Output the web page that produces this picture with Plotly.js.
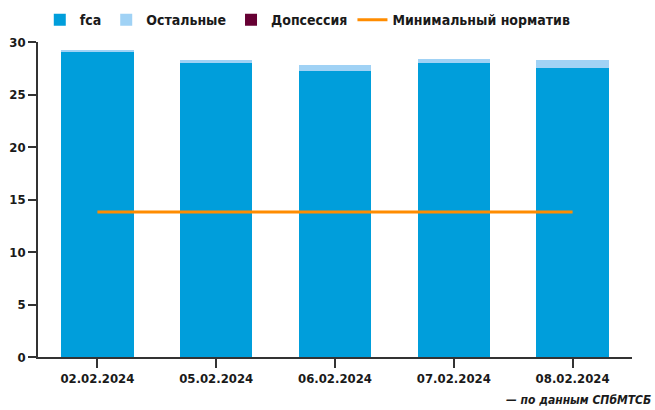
<!DOCTYPE html>
<html><head><meta charset="utf-8">
<script src="https://cdn.plot.ly/plotly-3.0.1.min.js"></script>
<style>body{margin:0;padding:0;background:#fff}#chart{width:655px;height:410px}</style>
</head><body><div id="chart"></div>
<script>
const dates = ["02.02.2024","05.02.2024","06.02.2024","07.02.2024","08.02.2024"];
const fca = [29.05, 28.0, 27.24, 28.0, 27.52];
const others = [0.2, 0.29, 0.57, 0.38, 0.76];
const dopsession = [0, 0, 0, 0, 0];
const minNorm = [13.8, 13.8, 13.8, 13.8, 13.8];
const yTicks = [0, 5, 10, 15, 20, 25, 30];

const FAM = "DejaVu Sans Condensed, DejaVu Sans, sans-serif";
const fnt = {family: FAM, size: 13, color: "#1a1a1a", weight: "bold"};
const traces = [
  {type: "bar", name: "fca", x: dates, y: fca, marker: {color: "#009EDB"}},
  {type: "bar", name: "Остальные", x: dates, y: others, marker: {color: "#A0D2F5"}},
  {type: "bar", name: "Допсессия", x: dates, y: dopsession, marker: {color: "#660033"}},
  {type: "scatter", mode: "lines", name: "Минимальный норматив", x: dates, y: minNorm,
   line: {color: "#FF8C00", width: 3}}
];
const layout = {
  width: 655, height: 410,
  margin: {l: 38, r: 23, t: 42, b: 53},
  barmode: "stack", bargap: 0.39,
  paper_bgcolor: "#fff", plot_bgcolor: "#fff",
  font: fnt,
  showlegend: true,
  legend: {orientation: "h", xref: "paper", x: 0.003, xanchor: "left",
           yref: "container", y: 0.951, yanchor: "middle",
           font: {family: FAM, size: 14, color: "#1a1a1a", weight: "bold"},
           traceorder: "normal", itemwidth: 30},
  xaxis: {type: "category", showgrid: false, showline: true, linecolor: "#333", linewidth: 1.5,
          ticks: "outside", ticklen: 9, tickcolor: "#333", tickwidth: 1.5, tickfont: fnt},
  yaxis: {range: [0, 30], tickvals: yTicks, showgrid: false, zeroline: false, showline: true,
          linecolor: "#333", linewidth: 1.5, ticks: "outside", ticklen: 8, tickcolor: "#333",
          tickwidth: 1.5, tickfont: fnt},
  annotations: [{text: "<i>— по данным СПбМТСБ</i>", xref: "paper", yref: "paper", x: 0.785, y: -0.137,
                 xanchor: "left", yanchor: "middle", showarrow: false,
                 font: {family: FAM, size: 12, color: "#1a1a1a", weight: "bold"}}]
};
Plotly.newPlot("chart", traces, layout, {displayModeBar: false});
</script></body></html>
